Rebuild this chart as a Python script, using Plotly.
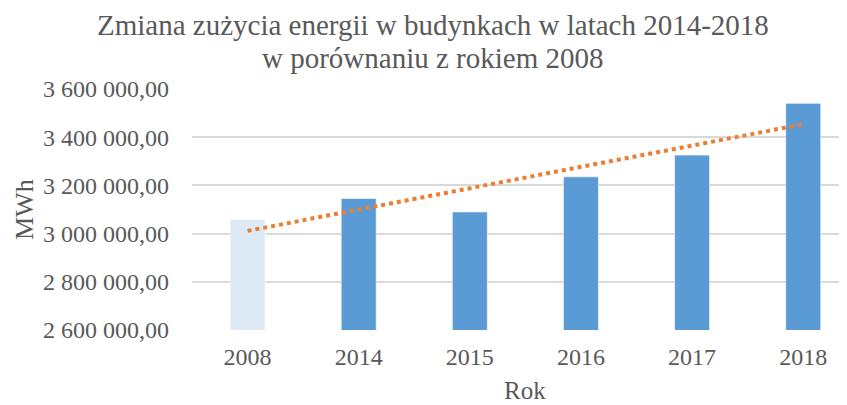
import numpy as np
import plotly.graph_objects as go

years = ['2008', '2014', '2015', '2016', '2017', '2018']
energy_mwh = [3058000, 3145500, 3090000, 3235500, 3325800, 3540400]
bar_colors = ['#DDE9F5', '#5B9BD5', '#5B9BD5', '#5B9BD5', '#5B9BD5', '#5B9BD5']

y_tickvals = [2600000, 2800000, 3000000, 3200000, 3400000, 3600000]
y_ticktext = ['2 600 000,00', '2 800 000,00', '3 000 000,00',
              '3 200 000,00', '3 400 000,00', '3 600 000,00']

title_lines = ['Zmiana zużycia energii w budynkach w latach 2014-2018',
               'w porównaniu z rokiem 2008']

# linear trend line like the one Excel draws
idx = np.arange(len(years))
slope, intercept = np.polyfit(idx, energy_mwh, 1)
trend = slope * idx + intercept

FONT = "'Liberation Serif', 'Times New Roman', serif"
GREY = '#595959'

fig = go.Figure()
fig.add_trace(go.Bar(
    x=idx, y=energy_mwh, width=0.315,
    marker={'color': bar_colors, 'line': {'color': 'rgba(255,255,255,0.6)', 'width': 1}},
    showlegend=False,
))
fig.add_trace(go.Scatter(
    x=idx, y=trend, mode='lines',
    line={'color': '#ED7D31', 'width': 4, 'dash': 'dot'},
    showlegend=False,
))

# title lines and axis titles as annotations (tighter line spacing than plotly's title)
annotations = [
    {'text': title_lines[0], 'x': 0.3687, 'y': 1.2656, 'font': {'size': 29}},
    {'text': title_lines[1], 'x': 0.3687, 'y': 1.1286, 'font': {'size': 29}},
    {'text': 'Rok', 'x': 0.5084, 'y': -0.249, 'font': {'size': 25}},
    {'text': 'MWh', 'x': -0.2565, 'y': 0.502, 'font': {'size': 26}, 'textangle': -90},
]
for a in annotations:
    a.update({'xref': 'paper', 'yref': 'paper', 'xanchor': 'center',
              'yanchor': 'middle', 'showarrow': False})
    a['font'].update({'family': FONT, 'color': GREY})

# page body has an 8px margin, so the figure is a bit smaller and shifted
fig.layout = {
    'width': 839,
    'height': 397,
    'margin': {'l': 184, 'r': 0, 't': 81, 'b': 75},
    'paper_bgcolor': 'white',
    'plot_bgcolor': 'white',
    'font': {'family': FONT, 'color': GREY, 'size': 24},
    'annotations': annotations,
    'xaxis': {
        'range': [-0.5, 5.394],
        'tickvals': list(idx), 'ticktext': years,
        'showgrid': False, 'zeroline': False,
        'showline': False, 'ticks': '', 'ticklabelstandoff': 10,
    },
    'yaxis': {
        'range': [2600000, 3600000],
        'tickvals': y_tickvals, 'ticktext': y_ticktext,
        'showgrid': True, 'gridcolor': '#D9D9D9', 'gridwidth': 1.5,
        'zeroline': False, 'ticks': '', 'ticklabelstandoff': 22,
    },
    'bargap': 0.6,
}

fig.write_html('out.html')
